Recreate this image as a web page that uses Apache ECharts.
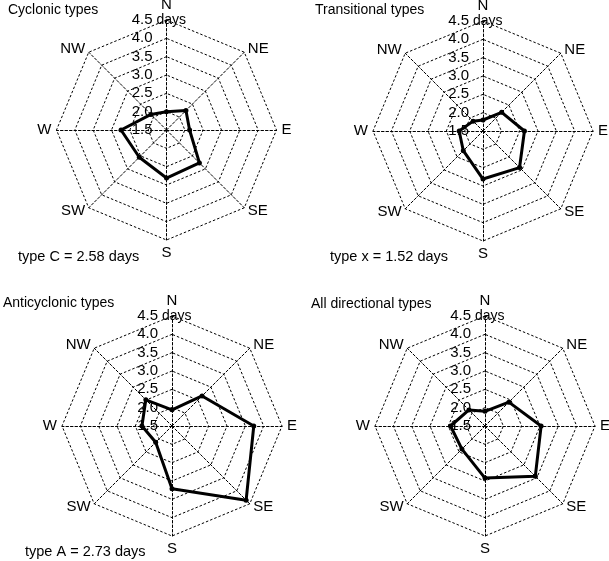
<!DOCTYPE html>
<html>
<head>
<meta charset="utf-8">
<style>
html,body{margin:0;padding:0;background:#fff;}
#c{width:609px;height:561px;}
</style>
<script src="https://cdn.jsdelivr.net/npm/echarts@6/dist/echarts.min.js"></script>
</head>
<body>
<div id="c"></div>
<script>
// Directions listed clockwise from North
var directions = ['N', 'NE', 'E', 'SE', 'S', 'SW', 'W', 'NW'];
var tickLabels = ['1.5', '2.0', '2.5', '3.0', '3.5', '4.0', '4.5'];
var cyclonic      = [2.00, 2.25, 2.13, 2.77, 2.81, 2.55, 2.74, 2.10];
var transitional  = [1.80, 2.22, 2.63, 2.91, 2.81, 2.26, 2.15, 1.88];
var anticyclonic  = [1.94, 2.66, 3.73, 4.36, 3.21, 2.13, 2.32, 2.51];
var allDirections = [1.90, 2.42, 3.03, 3.44, 2.92, 2.39, 2.44, 2.12];
var panelTitles = ['Cyclonic types', 'Transitional types', 'Anticyclonic types', 'All directional types'];
var panelNotes = ['type C = 2.58 days', 'type x = 1.52 days', 'type A = 2.73 days', ''];

var FONT = '"Liberation Sans", Arial, Helvetica, sans-serif';
var axisMin = 1.5, axisMax = 4.5;

// ECharts radar places indicators counter-clockwise; reorder clockwise list accordingly
var order = [0, 7, 6, 5, 4, 3, 2, 1];
function ccw(arr) { return order.map(function (i) { return arr[i]; }); }

var centers = [[166.5, 130], [483, 131], [172, 426], [485, 426]];
var radius = 110;

function makeRadar(ci) {
  return {
    center: centers[ci],
    radius: radius,
    startAngle: 90,
    shape: 'polygon',
    splitNumber: 6,
    indicator: ccw(directions).map(function (d, i) {
      var ind = { name: d, min: axisMin, max: axisMax };
      if (i === 0) ind.axisLabel = { show: true };
      return ind;
    }),
    axisName: { color: '#000', fontSize: 15, fontFamily: FONT },
    nameGap: 5,
    splitArea: { show: false },
    splitLine: { lineStyle: { color: '#000', width: 1, type: [2.5, 2] } },
    axisLine: { lineStyle: { color: '#000', width: 1, type: [2.5, 2] } },
    axisTick: { show: false },
    axisLabel: {
      show: false,
      color: '#000',
      fontSize: 15,
      fontFamily: FONT,
      margin: 14,
      formatter: function (v, idx) {
        var s = tickLabels[idx] != null ? tickLabels[idx] : v.toFixed(1);
        if (s === '4.5') return '{v|' + s + '}{d| days}';
        return '{v|' + s + '}';
      },
      rich: {
        v: { color: '#000', fontSize: 15, fontFamily: FONT, align: 'left' },
        d: { color: '#000', fontSize: 14, fontFamily: FONT, width: 0, align: 'left' }
      }
    }
  };
}

var datasets = [cyclonic, transitional, anticyclonic, allDirections];
var titlePos = [[8, 3], [315, 3], [3, 296], [311, 297]];
var notePos = [[18, 249], [330, 249], [25, 544], [0, 0]];

var titles = [];
panelTitles.forEach(function (t, i) {
  titles.push({ text: t, left: titlePos[i][0], top: titlePos[i][1], padding: 0,
    textStyle: { fontSize: 14, fontWeight: 'normal', color: '#000', fontFamily: FONT } });
  if (panelNotes[i]) {
    titles.push({ text: panelNotes[i], left: notePos[i][0], top: notePos[i][1], padding: 0,
      textStyle: { fontSize: 14.5, fontWeight: 'normal', color: '#000', fontFamily: FONT } });
  }
});

var option = {
  backgroundColor: '#fff',
  animation: false,
  title: titles,
  radar: [0, 1, 2, 3].map(makeRadar),
  series: datasets.map(function (arr, i) {
    return {
      type: 'radar',
      radarIndex: i,
      symbol: 'circle',
      symbolSize: 5,
      lineStyle: { color: '#000', width: 3 },
      itemStyle: { color: '#000' },
      data: [{ value: ccw(arr), name: panelTitles[i] }]
    };
  })
};

var chart = echarts.init(document.getElementById('c'), null, { renderer: 'canvas' });
chart.setOption(option);
</script>
</body>
</html>
